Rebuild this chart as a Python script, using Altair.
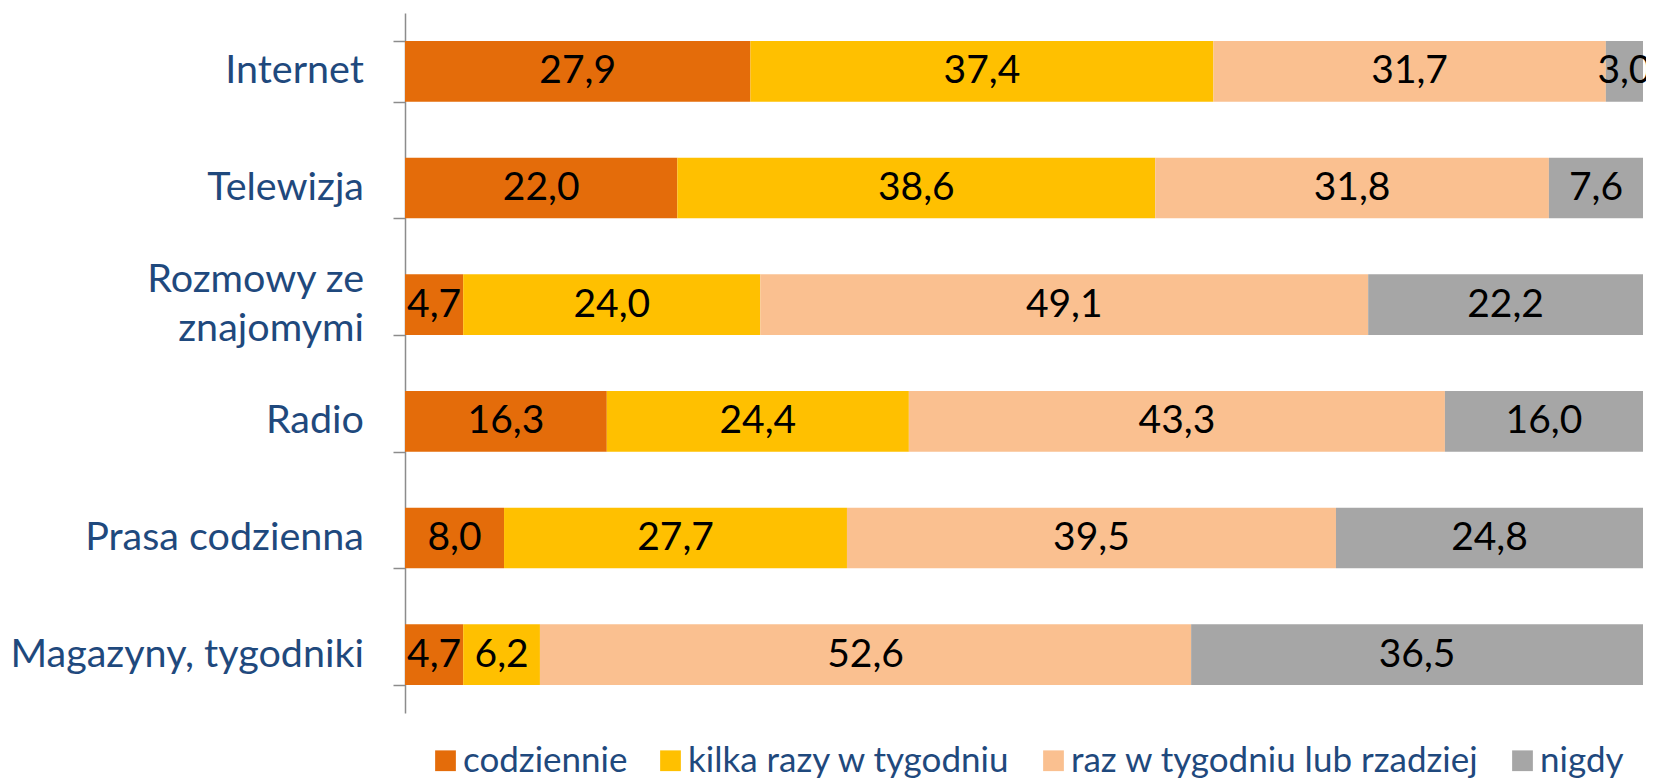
import altair as alt
import pandas as pd

categories = ["Internet", "Telewizja", "Rozmowy ze|znajomymi ", "Radio", "Prasa codzienna", "Magazyny, tygodniki"]
series = ["codziennie", "kilka razy w tygodniu", "raz w tygodniu lub rzadziej", "nigdy"]
colors = ["#E46C0A", "#FFC000", "#FAC090", "#A6A6A6"]
values = {
    "codziennie": [27.9, 22.0, 4.7, 16.3, 8.0, 4.7],
    "kilka razy w tygodniu": [37.4, 38.6, 24.0, 24.4, 27.7, 6.2],
    "raz w tygodniu lub rzadziej": [31.7, 31.8, 49.1, 43.3, 39.5, 52.6],
    "nigdy": [3.0, 7.6, 22.2, 16.0, 24.8, 36.5],
}

rows = []
for si, s in enumerate(series):
    for ci, c in enumerate(categories):
        v = values[s][ci]
        rows.append({"cat": c, "series": s, "order": si, "value": v,
                     "label": f"{v:.1f}".replace(".", ",")})
df = pd.DataFrame(rows)

lab_rows = []
for c in categories:
    lines = c.split("|")
    for i, l in enumerate(lines):
        txt = l.rstrip(" ") + ("\u00a0" if l.endswith(" ") else "")
        lab_rows.append({"cat": c, "line": txt, "i": i, "n": len(lines)})
df_lab = pd.DataFrame(lab_rows)

FONT = "Lato"
BLUE = "#1F497D"
LINE_H = 49
HEIGHT = 700
PAD_INNER = 0.48
HALF_BAND = HEIGHT / len(categories) * (1 - PAD_INNER) / 2

base = alt.Chart(df).transform_stack(
    stack="value", as_=["x0", "x1"], groupby=["cat"],
    sort=[alt.SortField("order", order="ascending")]
).transform_calculate(mid="(datum.x0 + datum.x1) / 2")

y_enc = alt.Y("cat:N", sort=categories, title=None,
              scale=alt.Scale(paddingInner=PAD_INNER, paddingOuter=PAD_INNER / 2),
              axis=alt.Axis(labels=False, tickBand="extent", tickSize=12,
                            tickWidth=1.5, tickColor="#8C8C8C", domainColor="#8C8C8C",
                            domainWidth=1.5))

bars = base.mark_bar().encode(
    x=alt.X("x0:Q", scale=alt.Scale(domain=[0, 100], nice=False), axis=None),
    x2="x1:Q",
    y=y_enc,
    color=alt.Color("series:N", scale=alt.Scale(domain=series, range=colors),
                    legend=alt.Legend(title=None, orient="none", direction="horizontal",
                                      legendX=23, legendY=730, symbolType="square",
                                      symbolSize=430, symbolStrokeWidth=0,
                                      labelFont=FONT, labelFontSize=35, labelColor=BLUE,
                                      labelOffset=0, columnPadding=25, labelLimit=600)),
)

texts = base.mark_text(font=FONT, fontSize=39, color="black", baseline="middle", align="center").encode(
    x=alt.X("mid:Q"),
    y=alt.Y("cat:N", sort=categories),
    text="label:N",
)

cat_labels = alt.Chart(df_lab).transform_calculate(
    off=f"(datum.i - (datum.n - 1) / 2) * {LINE_H} + {HALF_BAND}"
).mark_text(font=FONT, fontSize=39.5, color=BLUE, align="right", baseline="middle").encode(
    x=alt.value(-41),
    y=alt.Y("cat:N", sort=categories),
    yOffset=alt.YOffset("off:Q", scale=None),
    text="line:N",
)

chart = alt.layer(bars, texts, cat_labels).properties(
    width=1238, height=HEIGHT,
    autosize=alt.AutoSizeParams(type="none"),
    padding={"left": 397, "top": 5, "right": 3, "bottom": 68},
).configure_view(stroke=None)

chart.save("out.html", embed_options={"renderer": "svg", "actions": False})
